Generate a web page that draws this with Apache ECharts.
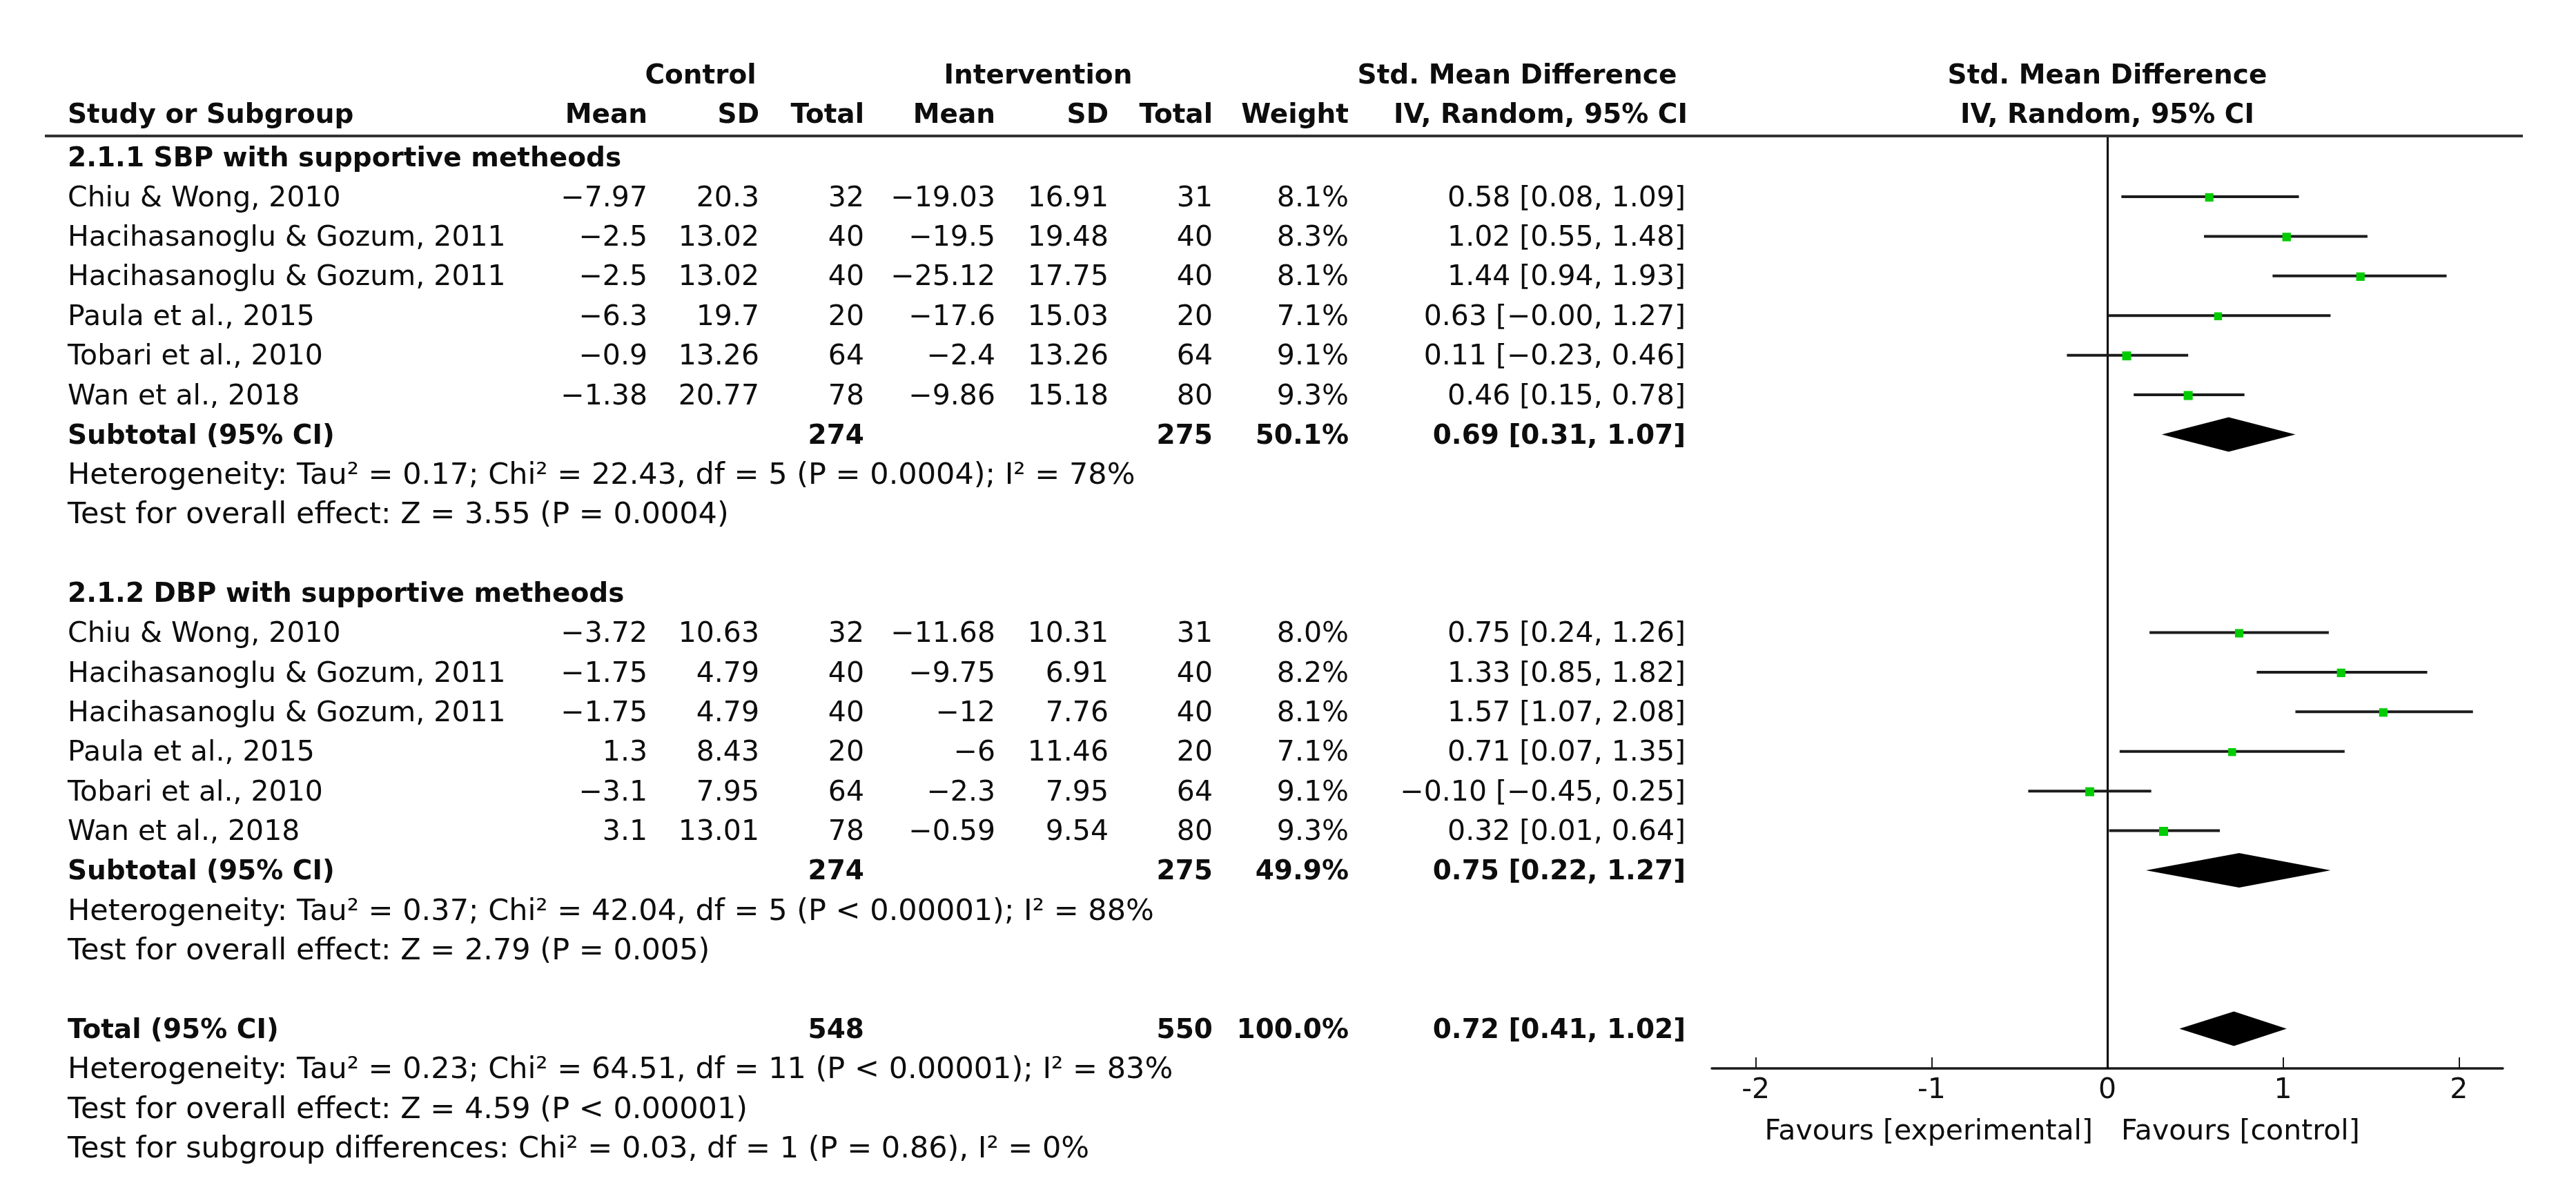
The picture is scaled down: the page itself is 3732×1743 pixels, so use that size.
<!DOCTYPE html>
<html>
<head>
<meta charset="utf-8">
<script src="https://cdn.jsdelivr.net/npm/echarts@6/dist/echarts.min.js"></script>
<style>
html,body{margin:0;padding:0;background:#fff;}
#chart{width:3732px;height:1743px;}
</style>
</head>
<body>
<div id="chart"></div>
<script>
// ---------------- DATA ----------------
const studyNames = ["Chiu & Wong, 2010", "Hacihasanoglu & Gozum, 2011", "Hacihasanoglu & Gozum, 2011", "Paula et al., 2015", "Tobari et al., 2010", "Wan et al., 2018"];

const sbpCtrlMean = [-7.97, -2.5, -2.5, -6.3, -0.9, -1.38];
const sbpCtrlSD   = [20.3, 13.02, 13.02, 19.7, 13.26, 20.77];
const sbpCtrlN    = [32, 40, 40, 20, 64, 78];
const sbpIntMean  = [-19.03, -19.5, -25.12, -17.6, -2.4, -9.86];
const sbpIntSD    = [16.91, 19.48, 17.75, 15.03, 13.26, 15.18];
const sbpIntN     = [31, 40, 40, 20, 64, 80];
const sbpWeight   = [8.1, 8.3, 8.1, 7.1, 9.1, 9.3];
const sbpSMD      = [0.58, 1.02, 1.44, 0.63, 0.11, 0.46];
const sbpLo       = [0.08, 0.55, 0.94, -0.00, -0.23, 0.15];
const sbpHi       = [1.09, 1.48, 1.93, 1.27, 0.46, 0.78];
const sbpSubtotal = {ctrlN: 274, intN: 275, weight: 50.1, smd: 0.69, lo: 0.31, hi: 1.07};

const dbpCtrlMean = [-3.72, -1.75, -1.75, 1.3, -3.1, 3.1];
const dbpCtrlSD   = [10.63, 4.79, 4.79, 8.43, 7.95, 13.01];
const dbpCtrlN    = [32, 40, 40, 20, 64, 78];
const dbpIntMean  = [-11.68, -9.75, -12, -6, -2.3, -0.59];
const dbpIntSD    = [10.31, 6.91, 7.76, 11.46, 7.95, 9.54];
const dbpIntN     = [31, 40, 40, 20, 64, 80];
const dbpWeight   = [8.0, 8.2, 8.1, 7.1, 9.1, 9.3];
const dbpSMD      = [0.75, 1.33, 1.57, 0.71, -0.10, 0.32];
const dbpLo       = [0.24, 0.85, 1.07, 0.07, -0.45, 0.01];
const dbpHi       = [1.26, 1.82, 2.08, 1.35, 0.25, 0.64];
const dbpSubtotal = {ctrlN: 274, intN: 275, weight: 49.9, smd: 0.75, lo: 0.22, hi: 1.27};

const overallTotal = {ctrlN: 548, intN: 550, weight: 100.0, smd: 0.72, lo: 0.41, hi: 1.02};

const groupTitles = ["2.1.1 SBP with supportive metheods", "2.1.2 DBP with supportive metheods"];
const sbpNotes = ["Heterogeneity: Tau² = 0.17; Chi² = 22.43, df = 5 (P = 0.0004); I² = 78%", "Test for overall effect: Z = 3.55 (P = 0.0004)"];
const dbpNotes = ["Heterogeneity: Tau² = 0.37; Chi² = 42.04, df = 5 (P < 0.00001); I² = 88%", "Test for overall effect: Z = 2.79 (P = 0.005)"];
const totalNotes = ["Heterogeneity: Tau² = 0.23; Chi² = 64.51, df = 11 (P < 0.00001); I² = 83%", "Test for overall effect: Z = 4.59 (P < 0.00001)", "Test for subgroup differences: Chi² = 0.03, df = 1 (P = 0.86), I² = 0%"];

const xTicks = [-2, -1, 0, 1, 2];
const favourLabels = ["Favours [experimental]", "Favours [control]"];

// ---------------- LAYOUT ----------------
const FONT = "DejaVu Sans";
const REG = 41, BOLD = 39, NOTE = 43;
const COL = {study: 98, cMean: 938, cSD: 1100, cN: 1252, iMean: 1442, iSD: 1606, iN: 1757, weight: 1954, ci: 2442};
const HEAD1 = -3.08, HEAD2 = -2.09;

function fmtNum(v) { const s = String(Math.abs(v)); return (v < 0 ? '\u2212' : '') + s; }
function fmt2(v) { return ((v < 0 || Object.is(v, -0)) ? '\u2212' : '') + Math.abs(v).toFixed(2); }
function ciText(e, l, h) { return fmt2(e) + ' [' + fmt2(l) + ', ' + fmt2(h) + ']'; }

const texts = [];
function T(row, x, text, align, bold, xv, size) { texts.push({row, x, text, align: align || 'left', bold: !!bold, xv, size}); }

// headers
T(HEAD1, 1015, 'Control', 'center', true);
T(HEAD1, 1504, 'Intervention', 'center', true);
T(HEAD1, 2198, 'Std. Mean Difference', 'center', true);
T(HEAD1, null, 'Std. Mean Difference', 'center', true, 0);
T(HEAD2, COL.study, 'Study or Subgroup', 'left', true);
T(HEAD2, COL.cMean, 'Mean', 'right', true);
T(HEAD2, COL.cSD, 'SD', 'right', true);
T(HEAD2, COL.cN, 'Total', 'right', true);
T(HEAD2, COL.iMean, 'Mean', 'right', true);
T(HEAD2, COL.iSD, 'SD', 'right', true);
T(HEAD2, COL.iN, 'Total', 'right', true);
T(HEAD2, COL.weight, 'Weight', 'right', true);
T(HEAD2, 2232, 'IV, Random, 95% CI', 'center', true);
T(HEAD2, null, 'IV, Random, 95% CI', 'center', true, 0);

const groups = [
  {title: groupTitles[0], start: -1, cm: sbpCtrlMean, cs: sbpCtrlSD, cn: sbpCtrlN, im: sbpIntMean, is: sbpIntSD, inn: sbpIntN, w: sbpWeight, e: sbpSMD, lo: sbpLo, hi: sbpHi, sub: sbpSubtotal, notes: sbpNotes},
  {title: groupTitles[1], start: 10, cm: dbpCtrlMean, cs: dbpCtrlSD, cn: dbpCtrlN, im: dbpIntMean, is: dbpIntSD, inn: dbpIntN, w: dbpWeight, e: dbpSMD, lo: dbpLo, hi: dbpHi, sub: dbpSubtotal, notes: dbpNotes}
];

const studyPoints = [];
const diamondPoints = [];

groups.forEach(g => {
  T(g.start, COL.study, g.title, 'left', true);
  studyNames.forEach((name, i) => {
    const r = g.start + 1 + i;
    T(r, COL.study, name, 'left');
    T(r, COL.cMean, fmtNum(g.cm[i]), 'right');
    T(r, COL.cSD, fmtNum(g.cs[i]), 'right');
    T(r, COL.cN, String(g.cn[i]), 'right');
    T(r, COL.iMean, fmtNum(g.im[i]), 'right');
    T(r, COL.iSD, fmtNum(g.is[i]), 'right');
    T(r, COL.iN, String(g.inn[i]), 'right');
    T(r, COL.weight, g.w[i].toFixed(1) + '%', 'right');
    T(r, COL.ci, ciText(g.e[i], g.lo[i], g.hi[i]), 'right');
    studyPoints.push([g.e[i], r, g.lo[i], g.hi[i], g.w[i]]);
  });
  const sr = g.start + 7;
  T(sr, COL.study, 'Subtotal (95% CI)', 'left', true);
  T(sr, COL.cN, String(g.sub.ctrlN), 'right', true);
  T(sr, COL.iN, String(g.sub.intN), 'right', true);
  T(sr, COL.weight, g.sub.weight.toFixed(1) + '%', 'right', true);
  T(sr, COL.ci, ciText(g.sub.smd, g.sub.lo, g.sub.hi), 'right', true);
  diamondPoints.push([g.sub.smd, sr, g.sub.lo, g.sub.hi]);
  T(sr + 1, COL.study, g.notes[0], 'left', false, undefined, NOTE);
  T(sr + 2, COL.study, g.notes[1], 'left', false, undefined, NOTE);
});

const TR = 21;
T(TR, COL.study, 'Total (95% CI)', 'left', true);
T(TR, COL.cN, String(overallTotal.ctrlN), 'right', true);
T(TR, COL.iN, String(overallTotal.intN), 'right', true);
T(TR, COL.weight, overallTotal.weight.toFixed(1) + '%', 'right', true);
T(TR, COL.ci, ciText(overallTotal.smd, overallTotal.lo, overallTotal.hi), 'right', true);
diamondPoints.push([overallTotal.smd, TR, overallTotal.lo, overallTotal.hi]);
totalNotes.forEach((n, i) => T(TR + 1 + i, COL.study, n, 'left', false, undefined, NOTE));

// favours labels (relative to the 0 line)
T(23.55, -21, favourLabels[0], 'right', false, 0);
T(23.55, 20, favourLabels[1], 'left', false, 0);

// ---------------- CHART ----------------
const chart = echarts.init(document.getElementById('chart'), null, {renderer: 'canvas'});

const option = {
  backgroundColor: '#ffffff',
  animation: false,
  grid: {left: 2480, right: 106, top: 197, bottom: 195, containLabel: false},
  xAxis: {
    type: 'value', min: -2.25, max: 2.25, position: 'bottom',
    axisLine: {show: true, onZero: false, lineStyle: {color: '#1a1a1a', width: 3.5}},
    axisTick: {show: true, inside: true, length: 16, customValues: xTicks, lineStyle: {color: '#1a1a1a', width: 2}},
    axisLabel: {show: true, customValues: xTicks, formatter: v => String(v), fontSize: REG, fontFamily: FONT, color: '#111', margin: 12},
    splitLine: {show: false}
  },
  yAxis: {type: 'value', inverse: true, min: -1.533, max: 22.0, show: false},
  graphic: [
    {type: 'line', shape: {x1: 65, y1: 197, x2: 3655, y2: 197}, style: {stroke: '#333', lineWidth: 4}, z: 10}
  ],
  series: [
    {
      type: 'custom', name: 'studies', coordinateSystem: 'cartesian2d',
      data: studyPoints, encode: {x: 0, y: 1}, clip: false, z: 5,
      renderItem: function (params, api) {
        const r = api.value(1);
        const pE = api.coord([api.value(0), r]);
        const pL = api.coord([api.value(2), r]);
        const pH = api.coord([api.value(3), r]);
        const s = 12.5 * Math.sqrt(api.value(4) / 8.5);
        return {type: 'group', children: [
          {type: 'line', shape: {x1: pL[0], y1: pL[1], x2: pH[0], y2: pH[1]}, style: {stroke: '#1c1c1c', lineWidth: 4}},
          {type: 'rect', shape: {x: pE[0] - s / 2, y: pE[1] - s / 2 + 1, width: s, height: s}, style: {fill: '#00cc00'}}
        ]};
      }
    },
    {
      type: 'custom', name: 'diamonds', coordinateSystem: 'cartesian2d',
      data: diamondPoints, encode: {x: 0, y: 1}, clip: false, z: 4,
      renderItem: function (params, api) {
        const r = api.value(1);
        const pE = api.coord([api.value(0), r]);
        const pL = api.coord([api.value(2), r]);
        const pH = api.coord([api.value(3), r]);
        const h = 25;
        return {type: 'polygon', shape: {points: [[pL[0], pL[1]], [pE[0], pE[1] - h], [pH[0], pH[1]], [pE[0], pE[1] + h]]}, style: {fill: '#000'}};
      },
      markLine: {silent: true, symbol: 'none', label: {show: false}, lineStyle: {color: '#000', width: 3, type: 'solid'}, data: [{xAxis: 0}]}
    },
    {
      type: 'custom', name: 'table', coordinateSystem: 'cartesian2d',
      data: texts.map((t, i) => [0, t.row, i]), encode: {x: 0, y: 1}, clip: false, z: 6, silent: true,
      renderItem: function (params, api) {
        const t = texts[api.value(2)];
        const p = api.coord([t.xv != null ? t.xv : 0, t.row]);
        const x = t.xv != null ? p[0] + (t.x || 0) : t.x;
        return {type: 'text', x: x, y: p[1] + 3, style: {
          text: t.text, fill: '#0d0d0d', fontFamily: FONT,
          fontSize: t.size || (t.bold ? BOLD : REG), fontWeight: t.bold ? 'bold' : 'normal',
          align: t.align, verticalAlign: 'middle', textAlign: t.align, textVerticalAlign: 'middle'
        }};
      }
    }
  ]
};
chart.setOption(option);
</script>
</body>
</html>
